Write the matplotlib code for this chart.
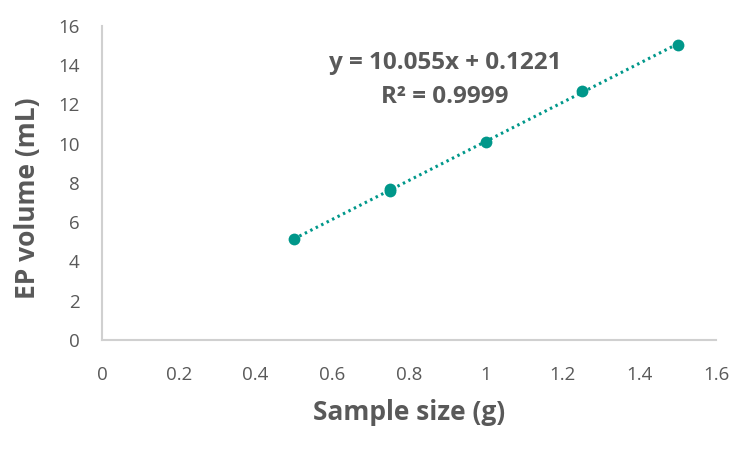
import numpy as np
import matplotlib
matplotlib.use("Agg")
import matplotlib.pyplot as plt

plt.rcParams['font.family'] = ['Open Sans', 'DejaVu Sans']

sample_size = [0.5, 0.75, 0.75, 1.0, 1.25, 1.5]
ep_volume = [5.15, 7.6, 7.68, 10.07, 12.69, 15.05]
x_ticks = [0, 0.2, 0.4, 0.6, 0.8, 1.0, 1.2, 1.4, 1.6]
x_tick_labels = ["0", "0.2", "0.4", "0.6", "0.8", "1", "1.2", "1.4", "1.6"]
y_ticks = [0, 2, 4, 6, 8, 10, 12, 14, 16]
equation_text = "y = 10.055x + 0.1221"
r2_text = "R² = 0.9999"

teal = "#00978a"
gray = "#595959"
axis_gray = "#d0d0d0"

fig = plt.figure(figsize=(7.5, 4.5), dpi=100)
ax = fig.add_axes([0.136, 0.2444, 0.819, 0.698])

# trendline
coef = np.polyfit(sample_size, ep_volume, 1)
xl = np.array([min(sample_size), max(sample_size)])
ax.plot(xl, np.polyval(coef, xl), linestyle=(0, (0.8, 1.2)), color=teal, lw=2.2, zorder=2)
ax.plot(sample_size, ep_volume, 'o', color=teal, markersize=8.5, markeredgewidth=0, zorder=3)

ax.set_xlim(0, 1.6)
ax.set_ylim(0, 16)
ax.set_xticks(x_ticks)
ax.set_xticklabels(x_tick_labels)
ax.set_yticks(y_ticks)

for s in ['top', 'right']:
    ax.spines[s].set_visible(False)
for s in ['left', 'bottom']:
    ax.spines[s].set_color(axis_gray)
    ax.spines[s].set_linewidth(1.5)

ax.tick_params(axis='both', length=0, labelsize=13.5, labelcolor=gray)
ax.tick_params(axis='x', pad=19)
ax.tick_params(axis='y', pad=16)

ax.set_xlabel("Sample size (g)", fontsize=19, fontweight='bold', color=gray)
ax.set_ylabel("EP volume (mL)", fontsize=19, fontweight='bold', color=gray)
ax.xaxis.set_label_coords(0.5, -(412 - 340) / 314)
ax.yaxis.set_label_coords(-(102 - 28) / 614, 0.452)
ax.xaxis.label.set_va('center')
ax.yaxis.label.set_va('center')

fig.text(445/750, 1 - 63/450, equation_text, ha='center', va='center',
         fontsize=17.5, fontweight='bold', color=gray)
fig.text(445/750, 1 - 97/450, r2_text, ha='center', va='center',
         fontsize=17.5, fontweight='bold', color=gray)

fig.savefig("out.png", dpi=100)
